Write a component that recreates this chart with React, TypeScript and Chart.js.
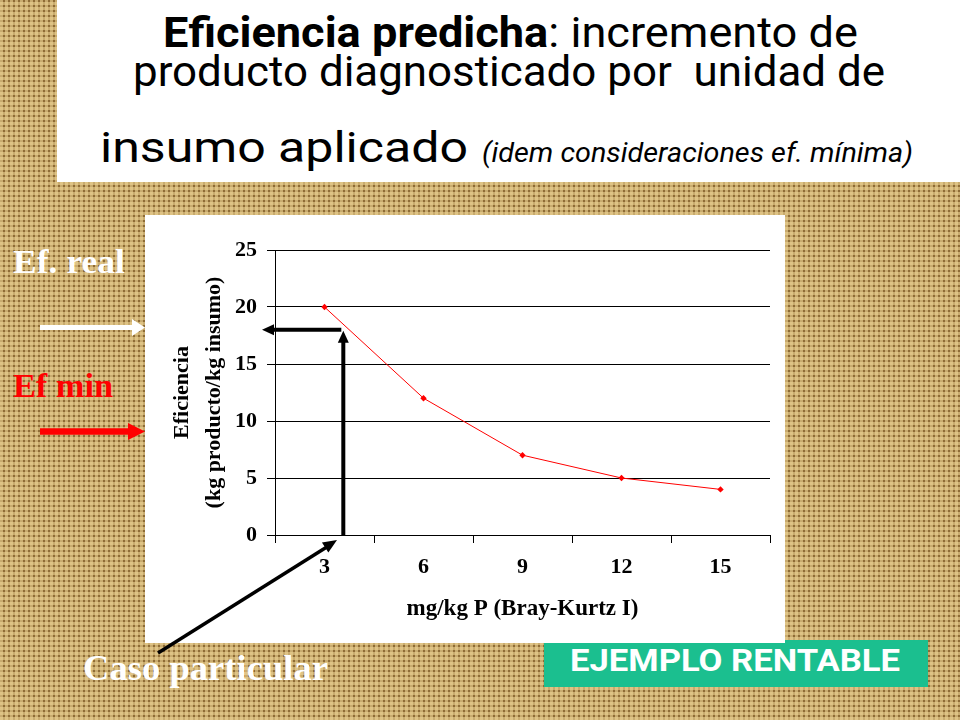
import React, { useEffect, useRef } from 'react';
import { Chart, registerables } from 'chart.js';

Chart.register(...registerables);

// ---- data ----
const P_LEVELS = ['3', '6', '9', '12', '15'];
const EFFICIENCY = [20, 12, 7, 5, 4];
const Y_MIN = 0;
const Y_MAX = 25;
const Y_STEP = 5;
const CASE_P = 3.57; // mg/kg P of the "caso particular"
const EF_REAL = 18; // efficiency read for that case

const X_TITLE = 'mg/kg P (Bray-Kurtz I)';
const Y_TITLE = ['Eficiencia', '(kg producto/kg insumo)'];

const SERIF = '"Liberation Serif", "Times New Roman", serif';
const SANS = 'Roboto, "Noto Sans", sans-serif';

const caseArrows = {
  id: 'caseArrows',
  afterDraw(chart: any) {
    const { ctx, chartArea } = chart;
    const x = chart.scales.x;
    const y = chart.scales.y;
    const idx = (CASE_P - 3) / 3;
    const px = x.getPixelForValue(idx);
    const py0 = y.getPixelForValue(0);
    const pyR = y.getPixelForValue(EF_REAL);
    ctx.save();
    ctx.fillStyle = '#000';
    ctx.strokeStyle = '#000';
    ctx.lineWidth = 4;
    // vertical arrow
    ctx.beginPath();
    ctx.moveTo(px, py0 + 1);
    ctx.lineTo(px, pyR + 12);
    ctx.stroke();
    ctx.beginPath();
    ctx.moveTo(px, pyR + 1);
    ctx.lineTo(px - 5.5, pyR + 13);
    ctx.lineTo(px + 5.5, pyR + 13);
    ctx.closePath();
    ctx.fill();
    // horizontal arrow
    const tipX = chartArea.left - 13;
    ctx.beginPath();
    ctx.moveTo(px - 2, pyR);
    ctx.lineTo(tipX + 10, pyR);
    ctx.stroke();
    ctx.beginPath();
    ctx.moveTo(tipX, pyR);
    ctx.lineTo(tipX + 12, pyR - 5.5);
    ctx.lineTo(tipX + 12, pyR + 5.5);
    ctx.closePath();
    ctx.fill();
    ctx.restore();
  },
};

function headPoints(x1: number, y1: number, x2: number, y2: number, len: number, half: number) {
  const a = Math.atan2(y2 - y1, x2 - x1);
  const bx = x2 - len * Math.cos(a);
  const by = y2 - len * Math.sin(a);
  const nx = -Math.sin(a) * half;
  const ny = Math.cos(a) * half;
  return `${x2},${y2} ${bx + nx},${by + ny} ${bx - nx},${by - ny}`;
}

export default function App() {
  const canvasRef = useRef<HTMLCanvasElement | null>(null);

  useEffect(() => {
    if (!canvasRef.current) return;
    const chart = new Chart(canvasRef.current, {
      type: 'line',
      data: {
        labels: P_LEVELS,
        datasets: [
          {
            data: EFFICIENCY,
            borderColor: '#ff0000',
            backgroundColor: '#ff0000',
            borderWidth: 1,
            pointStyle: 'rectRot',
            pointRadius: 3.2,
            pointBorderWidth: 0,
            pointBackgroundColor: '#ff0000',
            tension: 0,
          },
        ],
      },
      options: {
        animation: false,
        responsive: false,
        devicePixelRatio: 1,
        layout: { padding: { left: 0, top: 35, right: 15, bottom: 0 } },
        plugins: {
          legend: { display: false },
          tooltip: { enabled: false },
          title: { display: false },
        },
        scales: {
          x: {
            type: 'category',
            offset: true,
            afterFit: (s: any) => {
              s.height = 108;
            },
            grid: {
              offset: true,
              drawOnChartArea: false,
              drawTicks: true,
              tickLength: 8,
              color: '#000',
              lineWidth: 1,
            },
            border: { display: true, color: '#000', width: 1 },
            ticks: {
              color: '#000',
              padding: 11,
              font: { family: SERIF, size: 22, weight: 'bold' },
              maxRotation: 0,
            },
            title: {
              display: true,
              text: X_TITLE,
              color: '#000',
              font: { family: SERIF, size: 23, weight: 'bold' },
              padding: { top: 0, bottom: 20 },
            },
          },
          y: {
            min: Y_MIN,
            max: Y_MAX,
            afterFit: (s: any) => {
              s.width = 130;
            },
            grid: {
              color: '#000',
              lineWidth: 1,
              drawTicks: true,
              tickLength: 8,
            },
            border: { display: true, color: '#000', width: 1 },
            ticks: {
              stepSize: Y_STEP,
              color: '#000',
              padding: 10,
              font: { family: SERIF, size: 22, weight: 'bold' },
            },
            title: {
              display: true,
              text: Y_TITLE,
              color: '#000',
              font: { family: SERIF, size: 22, weight: 'bold', lineHeight: 1.45 },
              padding: { top: 21, bottom: 0 },
            },
          },
        },
      },
      plugins: [caseArrows],
    } as any);
    return () => chart.destroy();
  }, []);

  const burlap: React.CSSProperties = {
    position: 'fixed',
    left: 0,
    top: 0,
    width: 960,
    height: 720,
    overflow: 'hidden',
    backgroundColor: '#8f6c35',
    backgroundImage:
      'repeating-linear-gradient(0deg, rgba(236,210,146,0.62) 0px, rgba(236,210,146,0.62) 3px, rgba(0,0,0,0) 3px, rgba(0,0,0,0) 5px),' +
      'repeating-linear-gradient(90deg, rgba(236,210,146,0.62) 0px, rgba(236,210,146,0.62) 3px, rgba(0,0,0,0) 3px, rgba(0,0,0,0) 5px)',
  };

  return (
    <div style={burlap}>
      <svg
        width={960}
        height={720}
        style={{ position: 'absolute', left: 0, top: 0 }}
      >
        {/* title box */}
        <rect x={57} y={0} width={903} height={182} fill="#ffffff" />
        <text
          x={163}
          y={47}
          textLength={695}
          lengthAdjust="spacingAndGlyphs"
          fontFamily={SANS}
          fontSize={43}
          fill="#000"
        >
          <tspan fontWeight="bold">Eficiencia predicha</tspan>: incremento de
        </text>
        <text
          x={133}
          y={86}
          textLength={752}
          lengthAdjust="spacingAndGlyphs"
          fontFamily={SANS}
          fontSize={43}
          fill="#000"
          style={{ whiteSpace: 'pre' }}
        >
          {'producto diagnosticado por  unidad de'}
        </text>
        <text
          x={100}
          y={162}
          textLength={368}
          lengthAdjust="spacingAndGlyphs"
          fontFamily={SANS}
          fontSize={43}
          fill="#000"
        >
          insumo aplicado
        </text>
        <text
          x={482}
          y={162}
          textLength={431}
          lengthAdjust="spacingAndGlyphs"
          fontFamily={SANS}
          fontSize={27}
          fontStyle="italic"
          fill="#000"
        >
          (idem consideraciones ef. mínima)
        </text>

        {/* left labels and arrows */}
        <text
          x={13}
          y={273}
          textLength={112}
          lengthAdjust="spacingAndGlyphs"
          fontFamily={SERIF}
          fontWeight="bold"
          fontSize={34}
          fill="#ffffff"
        >
          Ef. real
        </text>
        <line x1={40} y1={327.5} x2={134} y2={327.5} stroke="#ffffff" strokeWidth={5} />
        <polygon points="145,327.5 132,319 132,336" fill="#ffffff" />

        <text
          x={13}
          y={397}
          textLength={100}
          lengthAdjust="spacingAndGlyphs"
          fontFamily={SERIF}
          fontWeight="bold"
          fontSize={34}
          fill="#ff0000"
        >
          Ef min
        </text>
        <line x1={40} y1={431.5} x2={130} y2={431.5} stroke="#ff0000" strokeWidth={6.5} />
        <polygon points="145,431.5 128,423 128,440" fill="#ff0000" />

        <text
          x={83}
          y={680}
          textLength={245}
          lengthAdjust="spacingAndGlyphs"
          fontFamily={SERIF}
          fontWeight="bold"
          fontSize={35}
          fill="#ffffff"
        >
          Caso particular
        </text>

        {/* green badge */}
        <rect x={544} y={640} width={384} height={47} fill="#1bbf8f" />
        <text
          x={570}
          y={671}
          textLength={330}
          lengthAdjust="spacingAndGlyphs"
          fontFamily={SANS}
          fontWeight="bold"
          fontSize={31}
          fill="#ffffff"
        >
          EJEMPLO RENTABLE
        </text>
      </svg>

      <div
        style={{
          position: 'absolute',
          left: 145,
          top: 215,
          width: 640,
          height: 428,
          background: '#ffffff',
        }}
      >
        <canvas
          ref={canvasRef}
          width={640}
          height={428}
          style={{ display: 'block', width: 640, height: 428 }}
        />
      </div>

      <svg
        width={960}
        height={720}
        style={{ position: 'absolute', left: 0, top: 0, pointerEvents: 'none' }}
      >
        <line x1={158} y1={653} x2={330} y2={545} stroke="#000" strokeWidth={3.5} />
        <polygon points={headPoints(158, 653, 337, 540, 14, 6)} fill="#000" />
      </svg>
    </div>
  );
}
